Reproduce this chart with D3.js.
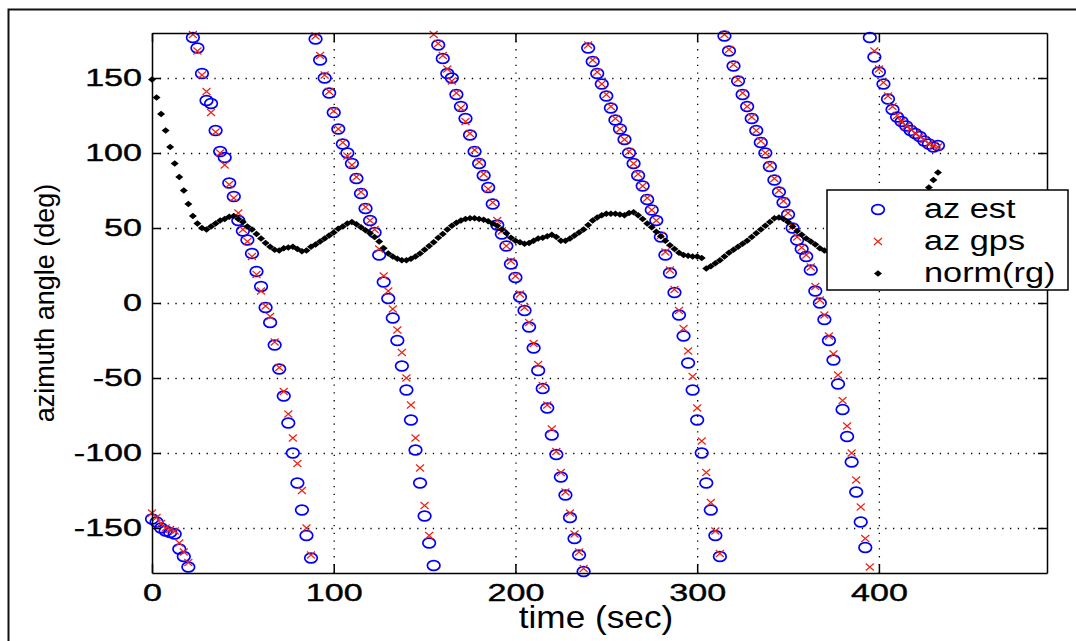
<!DOCTYPE html>
<html>
<head>
<meta charset="utf-8">
<title>azimuth angle (deg) vs time (sec)</title>
<script src="https://cdn.jsdelivr.net/npm/d3@7"></script>
<style>
  body { margin: 0; background: #fff; }
  svg text { font-family: "Liberation Sans", Arial, Helvetica, sans-serif; fill: #000; }
  .grid line { stroke: #000; stroke-width: 1.3; stroke-dasharray: 1.3, 6.5; }
  .grid .domain { display: none; }
  .axis path, .axis line { stroke: #000; stroke-width: 1.5; }
</style>
</head>
<body>
<script>
// sample times (sec)
var time = [
  0, 2.5, 5, 7.5, 10, 12.5, 15, 17.5, 20, 22.5,
  25, 27.5, 30, 32.5, 35, 37.5, 40, 42.5, 45, 47.5,
  50, 52.5, 55, 57.5, 60, 62.5, 65, 67.5, 70, 72.5,
  75, 77.5, 80, 82.5, 85, 87.5, 90, 92.5, 95, 97.5,
  100, 102.5, 105, 107.5, 110, 112.5, 115, 117.5, 120, 122.5,
  125, 127.5, 130, 132.5, 135, 137.5, 140, 142.5, 145, 147.5,
  150, 152.5, 155, 157.5, 160, 162.5, 165, 167.5, 170, 172.5,
  175, 177.5, 180, 182.5, 185, 187.5, 190, 192.5, 195, 197.5,
  200, 202.5, 205, 207.5, 210, 212.5, 215, 217.5, 220, 222.5,
  225, 227.5, 230, 232.5, 235, 237.5, 240, 242.5, 245, 247.5,
  250, 252.5, 255, 257.5, 260, 262.5, 265, 267.5, 270, 272.5,
  275, 277.5, 280, 282.5, 285, 287.5, 290, 292.5, 295, 297.5,
  300, 302.5, 305, 307.5, 310, 312.5, 315, 317.5, 320, 322.5,
  325, 327.5, 330, 332.5, 335, 337.5, 340, 342.5, 345, 347.5,
  350, 352.5, 355, 357.5, 360, 362.5, 365, 367.5, 370, 372.5,
  375, 377.5, 380, 382.5, 385, 387.5, 390, 392.5, 395, 397.5,
  400, 402.5, 405, 407.5, 410, 412.5, 415, 417.5, 420, 422.5,
  425, 427.5, 430, 432.5
];

// az est (deg)
var azEst = [
  -144, -146, -150, -152, -153, -154, -164, -169, -176, 177,
  170, 153, 135, 133, 115, 101, 97, 80, 71, 55,
  48, 42, 33, 21, 11, -3, -13, -28, -44, -62,
  -80, -100, -120, -138, -155, -170, 176, 162, 150, 140,
  127, 116, 106, 100, 93, 83, 73, 63, 55, 47,
  32, 14, 3, -10, -25, -42, -58, -78, -98, -120,
  -142, -160, -175, 172, 163, 153, 150, 139, 131, 123,
  112, 101, 93, 85, 77, 66, 52, 46, 38, 26,
  17, 4, -5, -16, -30, -45, -57, -70, -88, -101,
  -116, -128, -143, -157, -168, -179, 170, 161, 153, 146,
  138, 130, 122, 116, 109, 100, 93, 85, 78, 69,
  62, 55, 44, 32, 20, 7, -8, -22, -40, -58,
  -78, -100, -120, -138, -155, -169, 178, 168, 158, 148,
  139, 131, 123, 115, 107, 100, 91, 82, 74, 67,
  59, 50, 42, 36, 31, 22, 8, 0, -11, -25,
  -38, -54, -71, -89, -106, -126, -146, -163, 177, 164,
  154, 146, 136, 129, 124, 121, 118, 115, 113, 111,
  108, 106, 104, 105
];

// az gps (deg)
var azGps = [
  -140, -143, -147, -150, -151, -152, -160, -166, -173, 179,
  168, 152, 141, 127, 114, 100, 92, 79, 70, 60,
  49, 41, 31, 19, 8, -2, -9, -26, -43, -59,
  -74, -90, -107, -125, -150, -168, 178, 165, 152, 141,
  128, 116, 107, 98, 92, 84, 74, 64, 55, 49,
  36, 18, 8, -4, -18, -33, -50, -68, -90, -110,
  -135, -155, 179, 173, 165, 156, 148, 140, 130, 121,
  113, 102, 94, 86, 76, 67, 55, 48, 38, 28,
  18, 6, -3, -13, -27, -41, -55, -68, -84, -99,
  -113, -126, -140, -154, -166, -177, 172, 162, 154, 146,
  139, 131, 123, 116, 109, 101, 93, 86, 78, 70,
  62, 55, 45, 34, 22, 9, -5, -17, -32, -49,
  -70, -92, -113, -133, -152, -167, 179, 169, 159, 149,
  140, 131, 124, 115, 108, 100, 92, 83, 75, 68,
  60, 51, 44, 37, 32, 24, 11, 2, -8, -22,
  -34, -48, -65, -82, -100, -118, -136, -157, -176, 168,
  156, 147, 138, 131, 125, 121, 118, 116, 113, 111,
  109, 106, 105, 104
];

// norm(rg)
var normRg = [
  149, 137, 126, 115, 104, 93, 84, 75, 66, 58,
  53, 50, 49, 51, 53, 55, 56, 57.5, 58, 56,
  54, 51, 49, 46, 43, 40, 37.5, 35.5, 35, 36.5,
  37, 37.5, 36, 34.5, 35, 37.5, 39, 41, 43, 45,
  47, 49.5, 51, 53, 54, 52.5, 50.5, 48.5, 46.5, 44,
  41, 36.5, 33, 31, 29.5, 28.5, 28.5, 29.5, 31, 33,
  35.5, 38, 40.5, 43.5, 46, 49, 51.5, 53.5, 55, 56,
  56.5, 56.5, 56, 55.5, 54.5, 53, 51.5, 49, 46.5, 43.5,
  41.5, 40.5, 39.5, 40, 41.5, 43, 43.5, 44.5, 45.5, 44,
  41.5, 41.5, 43, 45, 47, 49, 52, 55, 57, 58.5,
  59.5, 59.5, 59.5, 59, 58.5, 60, 60.5, 58.5, 56, 53,
  50.5, 47.5, 44.5, 41.5, 38.5, 36, 33.5, 32, 31.5, 31,
  31, 30, 23, 24.5, 26.5, 28.5, 31, 33.5, 35.5, 37.5,
  39.5, 41.5, 44, 46.5, 49, 51.5, 54, 56.5, 57, 56,
  54, 51, 48, 45.5, 43, 41, 39, 36.5, 35, 34,
  33, 32, 31, 31, 31.5, 32.5, 34, 36, 38, 40,
  43, 46, 49, 52, 55, 58, 61, 64, 67, 70,
  73, 77, 82, 87
];

var xTicks = [0, 100, 200, 300, 400];
var yTicks = [-150, -100, -50, 0, 50, 100, 150];
var legendNames = ["az est", "az gps", "norm(rg)"];

var margin = {top: 33, left: 152},
    width = 895,
    height = 540;

var x = d3.scaleLinear().domain([0, 492.5]).range([0, width]);
var y = d3.scaleLinear().domain([-180, 180]).range([height, 0]);

var svg = d3.select("body").append("svg")
  .attr("width", 1076)
  .attr("height", 641);

svg.append("rect").attr("width", 1076).attr("height", 641).attr("fill", "#fff");

// figure frame
svg.append("rect")
  .attr("x", 8.5).attr("y", 9.5)
  .attr("width", 1100).attr("height", 700)
  .attr("fill", "none").attr("stroke", "#111").attr("stroke-width", 2);

var g = svg.append("g")
  .attr("transform", "translate(" + margin.left + "," + margin.top + ")");

// stretch text horizontally, the picture is wider than it should be
function stretch(sel, k) {
  sel.each(function () {
    var w = this.getComputedTextLength();
    d3.select(this).attr("textLength", w * k).attr("lengthAdjust", "spacingAndGlyphs");
  });
}

// grid
g.append("g").attr("class", "grid")
  .attr("transform", "translate(0," + height + ")")
  .call(d3.axisBottom(x).tickValues(xTicks.filter(d => d > 0)).tickSize(-height).tickFormat(""));
g.append("g").attr("class", "grid")
  .call(d3.axisLeft(y).tickValues(yTicks).tickSize(-width).tickFormat(""));

// data
var pts = time.map((t, i) => ({t: t, est: azEst[i], gps: azGps[i], rg: normRg[i]}));

var xMark = "M-4,-3.5L4,3.5M-4,3.5L4,-3.5";
var diamond = "M0,-3.2L4,0L0,3.2L-4,0Z";

g.append("g").selectAll("ellipse")
  .data(pts).enter().append("ellipse")
  .attr("cx", d => x(d.t)).attr("cy", d => y(d.est))
  .attr("rx", 6.3).attr("ry", 4.9)
  .attr("fill", "none").attr("stroke", "#0000ff").attr("stroke-width", 1.7);

g.append("g").selectAll("path")
  .data(pts).enter().append("path")
  .attr("transform", d => "translate(" + x(d.t) + "," + y(d.gps) + ")")
  .attr("d", xMark)
  .attr("fill", "none").attr("stroke", "#ee2211").attr("stroke-width", 1.2);

g.append("g").selectAll("path")
  .data(pts).enter().append("path")
  .attr("transform", d => "translate(" + x(d.t) + "," + y(d.rg) + ")")
  .attr("d", diamond)
  .attr("fill", "#000");

// axes (box with inward ticks)
var fmt = d => String(d);
var xAxis = g.append("g").attr("class", "axis")
  .attr("transform", "translate(0," + height + ")")
  .call(d3.axisBottom(x).tickValues(xTicks).tickFormat(fmt).tickSize(-9).tickSizeOuter(0).tickPadding(11));
var yAxis = g.append("g").attr("class", "axis")
  .call(d3.axisLeft(y).tickValues(yTicks).tickFormat(fmt).tickSize(-9).tickSizeOuter(0).tickPadding(10));
g.append("g").attr("class", "axis")
  .call(d3.axisTop(x).tickValues(xTicks).tickSize(-9).tickSizeOuter(0).tickFormat(""));
g.append("g").attr("class", "axis")
  .attr("transform", "translate(" + width + ",0)")
  .call(d3.axisRight(y).tickValues(yTicks).tickSize(-9).tickSizeOuter(0).tickFormat(""));

[xAxis, yAxis].forEach(function (a) {
  a.attr("font-family", null).attr("font-size", null);
  a.selectAll("text").style("font-size", "24px")
    .style("stroke", "#000").style("stroke-width", 0.4);
  stretch(a.selectAll("text"), 1.42);
});

// axis labels
var xl = g.append("text")
  .attr("x", 444).attr("y", 595)
  .attr("text-anchor", "middle")
  .style("font-size", "32px")
  .text("time (sec)");
stretch(xl, 1.1);

g.append("text")
  .attr("transform", "rotate(-90)")
  .attr("x", -height / 2).attr("y", 54 - margin.left)
  .attr("text-anchor", "middle")
  .style("font-size", "27px")
  .text("azimuth angle (deg)");

// legend
var legend = svg.append("g").attr("transform", "translate(827,190)");
legend.append("rect")
  .attr("width", 241).attr("height", 100)
  .attr("fill", "#fff").attr("stroke", "#000").attr("stroke-width", 1.5);

var rows = legend.selectAll("g.row")
  .data(legendNames).enter().append("g")
  .attr("transform", (d, i) => "translate(0," + (19.5 + i * 32) + ")");

rows.filter((d, i) => i === 0).append("ellipse")
  .attr("cx", 51).attr("cy", 0).attr("rx", 6.3).attr("ry", 4.9)
  .attr("fill", "none").attr("stroke", "#0000ff").attr("stroke-width", 1.7);
rows.filter((d, i) => i === 1).append("path")
  .attr("transform", "translate(51,0)").attr("d", xMark)
  .attr("fill", "none").attr("stroke", "#ee2211").attr("stroke-width", 1.2);
rows.filter((d, i) => i === 2).append("path")
  .attr("transform", "translate(51,0)").attr("d", diamond)
  .attr("fill", "#000");

var lt = rows.append("text")
  .attr("x", 97).attr("y", 8)
  .style("font-size", "27px")
  .text(d => d);
stretch(lt, 1.27);
</script>
</body>
</html>
